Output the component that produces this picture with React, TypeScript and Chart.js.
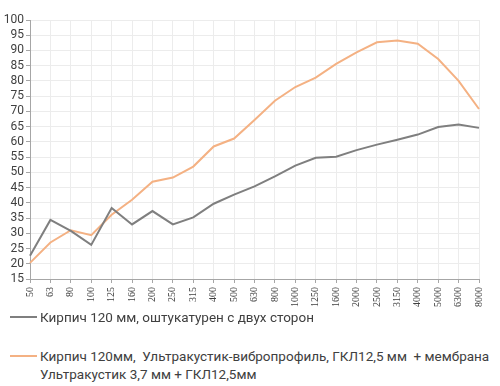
import React, { useEffect, useRef } from "react";
import { Chart, registerables } from "chart.js";

Chart.register(...registerables);

const categories = ["50", "63", "80", "100", "125", "160", "200", "250", "315", "400", "500", "630", "800", "1000", "1250", "1600", "2000", "2500", "3150", "4000", "5000", "6300", "8000"];
const brickPlaster = [22.6, 34.4, 30.8, 26.2, 38.3, 32.9, 37.3, 32.9, 35.2, 39.7, 42.7, 45.4, 48.7, 52.2, 54.8, 55.1, 57.3, 59.1, 60.7, 62.4, 64.9, 65.7, 64.6];
const brickSystem = [20.3, 27.0, 31.0, 29.4, 36.1, 41.0, 46.9, 48.3, 51.9, 58.5, 61.1, 67.2, 73.5, 78.0, 81.1, 85.6, 89.4, 92.7, 93.3, 92.2, 87.2, 80.0, 70.8];
const labelA = "Кирпич 120 мм, оштукатурен с двух сторон";
const labelB1 = "Кирпич 120мм,  Ультракустик-вибропрофиль, ГКЛ12,5 мм  + мембрана";
const labelB2 = "Ультракустик 3,7 мм + ГКЛ12,5мм";

const GRAY = "#7f7f7f";
const ORANGE = "#f4b183";

export default function App() {
  const ref = useRef<HTMLCanvasElement>(null);
  useEffect(() => {
    if (!ref.current) return;
    const chart = new Chart(ref.current, {
      type: "line",
      data: {
        labels: categories,
        datasets: [
          { label: labelA, data: brickPlaster, borderColor: GRAY, backgroundColor: GRAY, borderWidth: 2, pointRadius: 0, tension: 0 },
          { label: labelB1, data: brickSystem, borderColor: ORANGE, backgroundColor: ORANGE, borderWidth: 2, pointRadius: 0, tension: 0 },
        ],
      },
      options: {
        animation: false,
        responsive: false,
        layout: { padding: { top: 20, right: 21, left: 0, bottom: 0 } },
        plugins: { legend: { display: false }, tooltip: { enabled: false } },
        scales: {
          x: {
            offset: false,
            grid: { color: "#ececec", tickLength: 4, tickColor: "#a6a6a6" },
            border: { color: "#a6a6a6", width: 1 },
            ticks: {
              autoSkip: false,
              maxRotation: 90,
              minRotation: 90,
              padding: 4,
              color: "#404040",
              font: { family: "Liberation Serif", size: 10 },
            },
            afterFit: (s: any) => { s.height = 31; },
          },
          y: {
            min: 15,
            max: 100,
            grid: { color: "#ececec", tickLength: 4, tickColor: "#a6a6a6" },
            border: { color: "#a6a6a6", width: 1 },
            ticks: {
              stepSize: 5,
              autoSkip: false,
              padding: 2,
              color: "#404040",
              font: { family: "Roboto", size: 12 },
            },
            afterFit: (s: any) => { s.width = 30; },
          },
        },
      },
    });
    return () => chart.destroy();
  }, []);

  const textStyle: React.CSSProperties = {
    fontFamily: "Roboto",
    fontSize: 13.5,
    color: "#404040",
    whiteSpace: "pre",
    lineHeight: "18px",
  };
  return (
    <div style={{ position: "relative", width: 500, height: 386, overflow: "hidden" }}>
      <style>{"html,body{margin:0;padding:0;overflow:hidden}"}</style>
      <canvas ref={ref} width={500} height={310} style={{ display: "block" }} />
      <div style={{ position: "absolute", left: 10, top: 308, display: "flex", alignItems: "flex-start" }}>
        <div style={{ width: 27, height: 2, background: GRAY, marginTop: 8, marginRight: 3 }} />
        <div style={textStyle}>{labelA}</div>
      </div>
      <div style={{ position: "absolute", left: 10, top: 347, display: "flex", alignItems: "flex-start" }}>
        <div style={{ width: 27, height: 2, background: ORANGE, marginTop: 8, marginRight: 3 }} />
        <div style={textStyle}>{labelB1 + "\n" + labelB2}</div>
      </div>
    </div>
  );
}
